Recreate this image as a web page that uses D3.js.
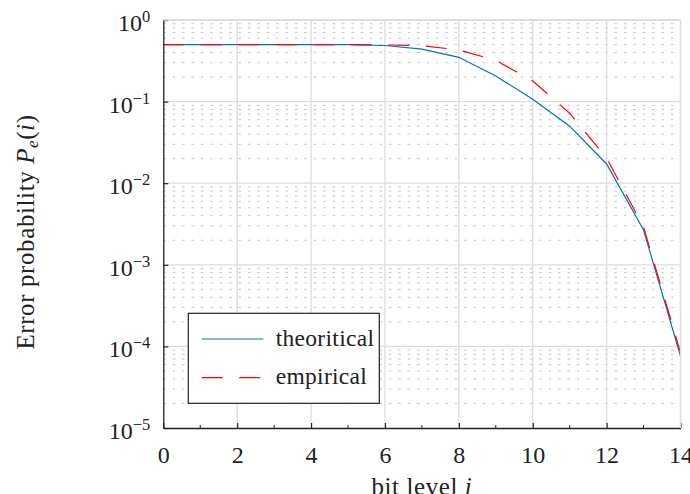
<!DOCTYPE html>
<html>
<head>
<meta charset="utf-8">
<script src="https://cdn.jsdelivr.net/npm/d3@7"></script>
<style>
  body { margin: 0; background: #fff; }
  svg text { font-family: "Liberation Serif", "DejaVu Serif", serif; fill: #222; }
</style>
</head>
<body>
<div id="chart"></div>
<script>
// bit levels on the x axis
const bitLevels = [0, 1, 2, 3, 4, 5, 6, 7, 8, 9, 10, 11, 12, 13, 14];
// error probability
const theoretical = [0.5, 0.5, 0.5, 0.5, 0.5, 0.498, 0.487, 0.44, 0.349, 0.206, 0.107, 0.050, 0.0172, 0.00267, 0.000076];
const empirical = [0.5, 0.5, 0.5, 0.5, 0.5, 0.5, 0.495, 0.484, 0.43, 0.32, 0.179, 0.072, 0.0203, 0.0029, 0.000084];
const xTicks = [0, 2, 4, 6, 8, 10, 12, 14];
const xMinorTicks = [1, 3, 5, 7, 9, 11, 13];
const yDecades = [0, -1, -2, -3, -4, -5];
const legendLabels = ["theoritical", "empirical"];

const W = 690, H = 494;
const margin = { top: 20, right: 9.5, bottom: 66, left: 163.3 };
const width = W - margin.left - margin.right;
const height = H - margin.top - margin.bottom;

const svg = d3.select("#chart")
  .append("svg")
  .attr("width", W)
  .attr("height", H);

const g = svg.append("g")
  .attr("transform", `translate(${margin.left},${margin.top})`);

const x = d3.scaleLinear().domain([0, 14]).range([0, width]);
const y = d3.scaleLog().domain([1e-5, 1]).range([height, 0]);

// minor grid (dotted) at 2..9 x 10^k
const minorY = [];
yDecades.slice(1).forEach((k) => {
  for (let m = 2; m <= 9; m++) minorY.push(m * Math.pow(10, k));
});
g.append("g")
  .selectAll("line")
  .data(minorY)
  .enter()
  .append("line")
  .attr("x1", 0)
  .attr("x2", width)
  .attr("y1", (d) => y(d))
  .attr("y2", (d) => y(d))
  .attr("stroke", "#c4c4c4")
  .attr("stroke-width", 1)
  .attr("stroke-dasharray", "2.5,6.9");

// major grid
g.append("g")
  .selectAll("line")
  .data(xTicks.slice(1))
  .enter()
  .append("line")
  .attr("x1", (d) => x(d))
  .attr("x2", (d) => x(d))
  .attr("y1", 0)
  .attr("y2", height)
  .attr("stroke", "#dddddd")
  .attr("stroke-width", 1.3);

g.append("g")
  .selectAll("line")
  .data(yDecades.slice(0, -1))
  .enter()
  .append("line")
  .attr("x1", 0)
  .attr("x2", width)
  .attr("y1", (d) => y(Math.pow(10, d)))
  .attr("y2", (d) => y(Math.pow(10, d)))
  .attr("stroke", "#dddddd")
  .attr("stroke-width", 1.3);

// curves
const line = d3.line()
  .x((d, i) => x(bitLevels[i]))
  .y((d) => y(d));

g.append("path")
  .datum(theoretical)
  .attr("d", line)
  .attr("fill", "none")
  .attr("stroke", "#0072bd")
  .attr("stroke-width", 1.2);

g.append("path")
  .datum(empirical)
  .attr("d", line)
  .attr("fill", "none")
  .attr("stroke", "#ff0000")
  .attr("stroke-width", 1.2)
  .attr("stroke-dasharray", "21,16.5");

// x axis
const xAxis = g.append("g")
  .attr("transform", `translate(0,${height})`)
  .call(d3.axisBottom(x).tickValues(xTicks).tickSize(-5).tickSizeOuter(0));
xAxis.select(".domain").attr("stroke", "#222").attr("stroke-width", 1.3);
xAxis.selectAll(".tick line").attr("stroke", "#222").attr("stroke-width", 1.2);
xAxis.selectAll(".tick text")
  .attr("y", 35)
  .attr("dy", 0)
  .style("font-size", "24px")
  .style("font-family", "Liberation Serif")
  .attr("fill", "#222");

g.append("g")
  .attr("transform", `translate(0,${height})`)
  .selectAll("line")
  .data(xMinorTicks)
  .enter()
  .append("line")
  .attr("x1", (d) => x(d))
  .attr("x2", (d) => x(d))
  .attr("y1", 0)
  .attr("y2", -3)
  .attr("stroke", "#222")
  .attr("stroke-width", 1);

// y axis
const yAxis = g.append("g")
  .call(d3.axisLeft(y)
    .tickValues(yDecades.map((k) => Math.pow(10, k)))
    .tickSize(-5)
    .tickSizeOuter(0)
    .tickFormat(""));
yAxis.select(".domain").attr("stroke", "#222").attr("stroke-width", 1.3);
yAxis.selectAll(".tick line").attr("stroke", "#222").attr("stroke-width", 1.2);
yAxis.selectAll(".tick text").remove();
yAxis.selectAll(".tick").each(function (d) {
  const k = Math.round(Math.log10(d));
  const t = d3.select(this)
    .append("text")
    .attr("x", -13)
    .attr("y", 10.5)
    .attr("text-anchor", "end")
    .style("font-size", "24px")
    .style("font-family", "Liberation Serif")
    .attr("fill", "#222");
  t.append("tspan").text("10");
  t.append("tspan")
    .attr("dy", -9)
    .style("font-size", "16.5px")
    .text(k === 0 ? "0" : "\u2212" + Math.abs(k));
});

// light box on the top and right
g.append("line")
  .attr("x1", 0).attr("x2", width)
  .attr("y1", 0).attr("y2", 0)
  .attr("stroke", "#dddddd").attr("stroke-width", 1.3);
g.append("line")
  .attr("x1", width).attr("x2", width)
  .attr("y1", 0).attr("y2", height)
  .attr("stroke", "#dddddd").attr("stroke-width", 1.3);

// axis labels
svg.append("text")
  .attr("x", margin.left + width / 2)
  .attr("y", 495)
  .attr("text-anchor", "middle")
  .style("font-size", "25px")
  .style("letter-spacing", "0.6px")
  .call((t) => {
    t.append("tspan").text("bit level ");
    t.append("tspan").style("font-style", "italic").text("i");
  });

svg.append("text")
  .attr("transform", `translate(34,${margin.top + height / 2 + 8}) rotate(-90)`)
  .attr("text-anchor", "middle")
  .style("font-size", "25px")
  .style("letter-spacing", "0.6px")
  .call((t) => {
    t.append("tspan").text("Error probability ");
    t.append("tspan").style("font-style", "italic").text("P");
    t.append("tspan").style("font-style", "italic").style("font-size", "17px").attr("dy", 4).text("e");
    t.append("tspan").attr("dy", -4).text("(");
    t.append("tspan").style("font-style", "italic").text("i");
    t.append("tspan").text(")");
  });

// legend
const legend = svg.append("g").attr("transform", "translate(188.3,313.3)");
legend.append("rect")
  .attr("width", 191)
  .attr("height", 90)
  .attr("fill", "#fff")
  .attr("stroke", "#222")
  .attr("stroke-width", 1.2);

const legendStyles = [
  { color: "#0072bd", dash: null },
  { color: "#ff0000", dash: "21,16.5" },
];
legendLabels.forEach((label, i) => {
  const row = legend.append("g").attr("transform", `translate(0,${25.7 + i * 38.7})`);
  row.append("line")
    .attr("x1", 13.4)
    .attr("x2", 75)
    .attr("stroke", legendStyles[i].color)
    .attr("stroke-width", 1.2)
    .attr("stroke-dasharray", legendStyles[i].dash);
  row.append("text")
    .attr("x", 87.4)
    .attr("y", 6.5)
    .style("font-size", "23.5px")
    .style("letter-spacing", "0.3px")
    .text(label);
});
</script>
</body>
</html>
